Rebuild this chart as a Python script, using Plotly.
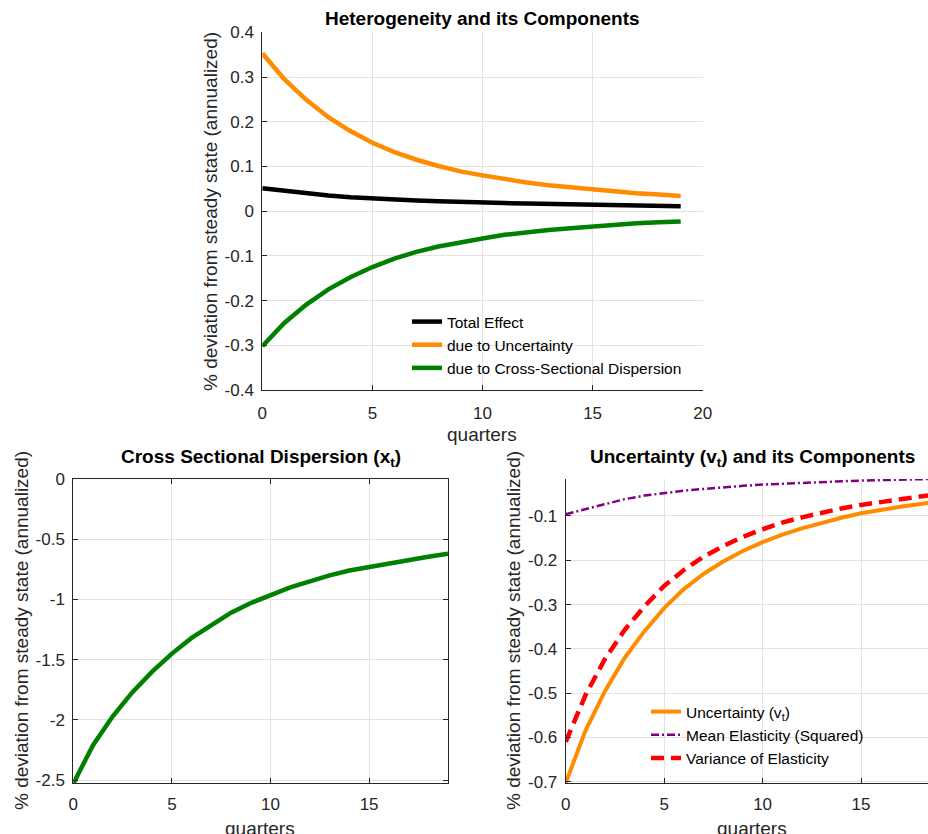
import plotly.graph_objects as go

# quarters after the shock
quarters = list(range(20))

# Heterogeneity decomposition (% deviation, annualized)
total_effect = [0.051, 0.045, 0.040, 0.035, 0.031, 0.028, 0.026, 0.024, 0.022, 0.020,
                0.019, 0.018, 0.017, 0.016, 0.015, 0.014, 0.013, 0.013, 0.012, 0.011]
due_uncertainty = [0.353, 0.295, 0.249, 0.210, 0.179, 0.153, 0.132, 0.115, 0.101, 0.089,
                   0.080, 0.071, 0.064, 0.058, 0.053, 0.048, 0.044, 0.040, 0.037, 0.034]
due_dispersion = [-0.302, -0.250, -0.209, -0.175, -0.148, -0.125, -0.106, -0.091, -0.079, -0.069,
                  -0.061, -0.053, -0.047, -0.042, -0.038, -0.034, -0.031, -0.027, -0.025, -0.023]

# Cross sectional dispersion x_t
dispersion_xt = [-2.53, -2.21, -1.97, -1.77, -1.60, -1.45, -1.32, -1.21, -1.11, -1.03,
                 -0.96, -0.90, -0.85, -0.80, -0.76, -0.73, -0.70, -0.67, -0.645, -0.62]

# Uncertainty v_t and its components
uncertainty_vt = [-0.703, -0.585, -0.495, -0.420, -0.360, -0.308, -0.265, -0.231, -0.203, -0.179,
                  -0.159, -0.142, -0.128, -0.115, -0.104, -0.094, -0.086, -0.079, -0.073, -0.067]
mean_elasticity_sq = [-0.096, -0.085, -0.074, -0.062, -0.054, -0.048, -0.043, -0.039, -0.035, -0.032,
                      -0.029, -0.027, -0.025, -0.023, -0.022, -0.020, -0.019, -0.018, -0.017, -0.016]
variance_elasticity = [-0.610, -0.505, -0.422, -0.357, -0.304, -0.258, -0.222, -0.192, -0.168, -0.147,
                       -0.130, -0.115, -0.103, -0.092, -0.083, -0.075, -0.068, -0.062, -0.056, -0.051]

top_yticks = [0.4, 0.3, 0.2, 0.1, 0, -0.1, -0.2, -0.3, -0.4]
top_xticks = [0, 5, 10, 15, 20]
left_yticks = [0, -0.5, -1, -1.5, -2, -2.5]
right_yticks = [-0.1, -0.2, -0.3, -0.4, -0.5, -0.6, -0.7]
bottom_xticks = [0, 5, 10, 15]

W, H = 928, 834
FONT = "Liberation Sans, Arial, Helvetica, sans-serif"
AXIS_COLOR = "#262626"
GRID_COLOR = "#e2e2e2"


def fmt(v):
    # hyphen-minus tick labels
    return "%g" % v


def px_x(p):
    return p / W


def px_y(p):
    return 1 - p / H


fig = go.Figure()

# --- top panel
fig.add_trace(go.Scatter(x=quarters, y=total_effect, mode="lines", name="Total Effect",
                         line=dict(color="black", width=4.5), xaxis="x", yaxis="y", legend="legend"))
fig.add_trace(go.Scatter(x=quarters, y=due_uncertainty, mode="lines", name="due to Uncertainty",
                         line=dict(color="#ff8c00", width=4.5), xaxis="x", yaxis="y", legend="legend"))
fig.add_trace(go.Scatter(x=quarters, y=due_dispersion, mode="lines",
                         name="due to Cross-Sectional Dispersion",
                         line=dict(color="#008000", width=4.5), xaxis="x", yaxis="y", legend="legend"))

# --- bottom left panel
fig.add_trace(go.Scatter(x=quarters, y=dispersion_xt, mode="lines", showlegend=False,
                         line=dict(color="#008000", width=4.5), xaxis="x2", yaxis="y2"))

# --- bottom right panel
fig.add_trace(go.Scatter(x=quarters, y=uncertainty_vt, mode="lines", name="Uncertainty (v<sub>t</sub>)",
                         line=dict(color="#ff8c00", width=4), xaxis="x3", yaxis="y3", legend="legend2"))
fig.add_trace(go.Scatter(x=quarters, y=mean_elasticity_sq, mode="lines",
                         name="Mean Elasticity (Squared)",
                         line=dict(color="#800080", width=2.5, dash="8px,3px,2px,3px"),
                         xaxis="x3", yaxis="y3", legend="legend2"))
fig.add_trace(go.Scatter(x=quarters, y=variance_elasticity, mode="lines",
                         name="Variance of Elasticity",
                         line=dict(color="#ff0000", width=4.5, dash="13px,7px"),
                         xaxis="x3", yaxis="y3", legend="legend2"))


def axis(domain, rng, ticks, anchor, mirror=False, standoff=4):
    return dict(domain=domain, range=rng, tickmode="array", tickvals=ticks,
                ticktext=[fmt(t) for t in ticks], anchor=anchor, automargin=False,
                showline=True, linecolor=AXIS_COLOR, linewidth=1, mirror=mirror,
                ticks="inside", ticklen=5, tickcolor=AXIS_COLOR, tickwidth=1,
                tickfont=dict(family=FONT, size=17, color=AXIS_COLOR),
                showgrid=True, gridcolor=GRID_COLOR, gridwidth=1, zeroline=False,
                ticklabelstandoff=standoff, fixedrange=True)


top_x = [px_x(262.3), px_x(702.7)]
top_y = [px_y(390), px_y(32.3)]
bl_x = [px_x(73.3), px_x(448)]
bot_y = [px_y(783.3), px_y(479)]
br_x = [px_x(565.7), 1.0]

legend_font = dict(family=FONT, size=15.5, color="black")

fig.update_layout(
    template="none",
    width=W, height=H, autosize=False,
    margin=dict(l=0, r=0, t=0, b=0, pad=0, autoexpand=False),
    paper_bgcolor="white", plot_bgcolor="white",
    font=dict(family=FONT, color=AXIS_COLOR),
    xaxis=axis(top_x, [0, 20], top_xticks, "y", standoff=8),
    yaxis=axis(top_y, [-0.4, 0.4], top_yticks, "x"),
    xaxis2=axis(bl_x, [0, 19], bottom_xticks, "y2", mirror="ticks", standoff=5),
    yaxis2=axis(bot_y, [-2.527, 0], left_yticks, "x2", mirror="ticks"),
    xaxis3=axis(br_x, [0, 18.4], bottom_xticks, "y3", standoff=5),
    yaxis3=axis(bot_y, [-0.7036, -0.0165], right_yticks, "x3"),
    legend=dict(x=px_x(407), y=px_y(305), xanchor="left", yanchor="top",
                bgcolor="rgba(0,0,0,0)", borderwidth=0, tracegroupgap=0, font=legend_font),
    legend2=dict(x=px_x(646), y=px_y(695), xanchor="left", yanchor="top",
                 bgcolor="rgba(0,0,0,0)", borderwidth=0, tracegroupgap=0, font=legend_font),
    showlegend=True,
)

annotations = [
    # panel titles
    dict(text="<b>Heterogeneity and its Components</b>", x=px_x(482), y=px_y(19), size=19),
    dict(text="<b>Cross Sectional Dispersion (x<sub>t</sub>)</b>", x=px_x(261), y=px_y(458), size=19),
    dict(text="<b>Uncertainty (v<sub>t</sub>) and its Components</b>", x=px_x(752), y=px_y(458), size=19),
    # x axis labels
    dict(text="quarters", x=px_x(482), y=px_y(434), size=19),
    dict(text="quarters", x=px_x(260), y=px_y(828), size=19),
    dict(text="quarters", x=px_x(752), y=px_y(828), size=19),
]
for a in annotations:
    fig.add_annotation(text=a["text"], x=a["x"], y=a["y"], xref="paper", yref="paper",
                       xanchor="center", yanchor="middle", showarrow=False,
                       font=dict(family=FONT, size=a["size"],
                                 color="black" if "<b>" in a["text"] else AXIS_COLOR))

ylabel = "% deviation from steady state (annualized)"
for cx, cy in [(211, 212), (21, 631), (513, 631)]:
    fig.add_annotation(text=ylabel, x=px_x(cx), y=px_y(cy), xref="paper", yref="paper",
                       xanchor="center", yanchor="middle", showarrow=False, textangle=-90,
                       font=dict(family=FONT, size=19, color=AXIS_COLOR))

fig.write_html("out.html", config={"displayModeBar": False})
